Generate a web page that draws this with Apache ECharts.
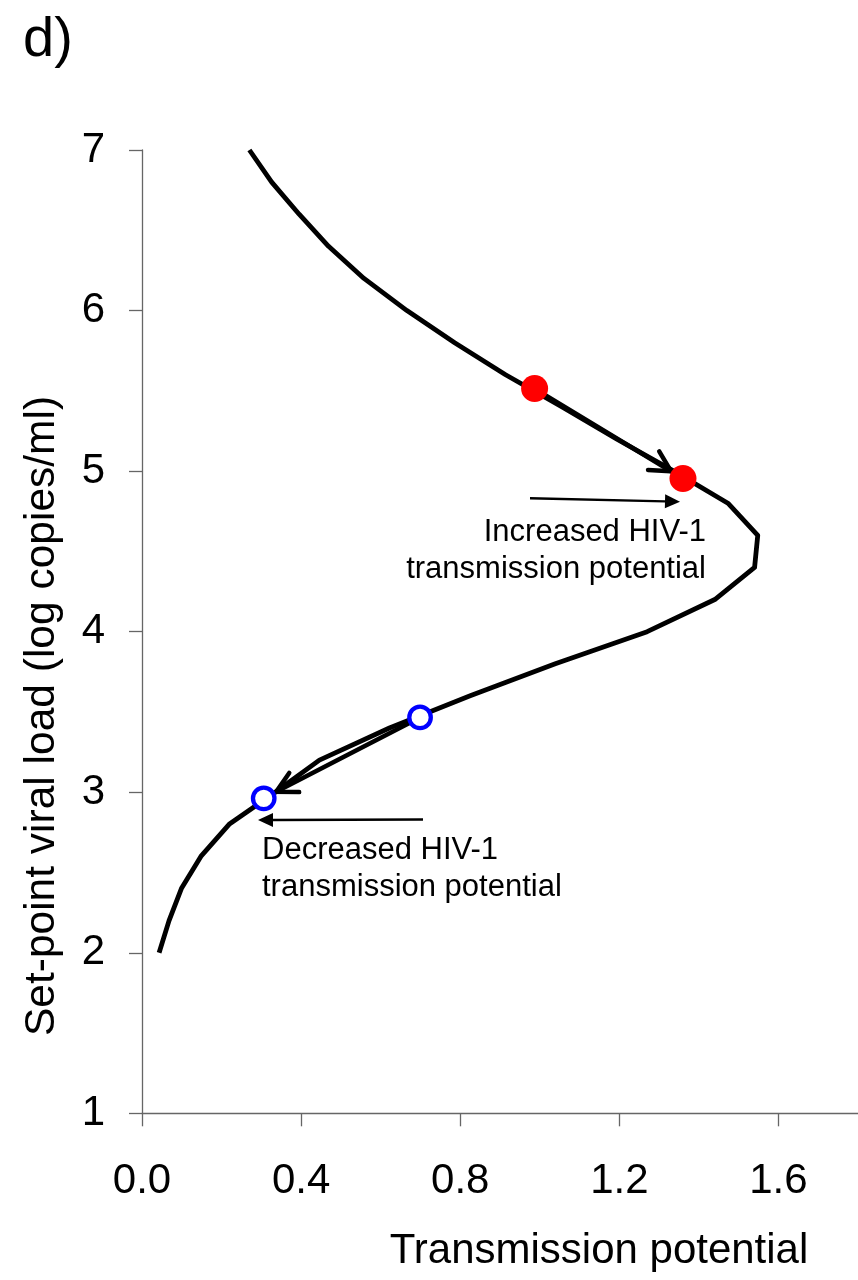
<!DOCTYPE html>
<html>
<head>
<meta charset="utf-8">
<script src="https://cdn.jsdelivr.net/npm/echarts@6/dist/echarts.min.js"></script>
<style>
  html, body { margin: 0; padding: 0; background: #fff; }
  #chart { width: 858px; height: 1280px; }
</style>
</head>
<body>
<div id="chart"></div>
<script>
// Set-point viral load (log copies/ml) sampled along the curve
const viralLoad = [7.0, 6.8, 6.6, 6.4, 6.2, 6.0, 5.8, 5.6, 5.4, 5.2, 5.0, 4.8, 4.6,
                   4.4, 4.2, 4.0, 3.8, 3.6, 3.4, 3.2, 3.0, 2.8, 2.6, 2.4, 2.2, 2.0];
// Transmission potential at each viral load
const transmission = [0.270, 0.326, 0.395, 0.469, 0.558, 0.666, 0.786, 0.914, 1.056, 1.193,
                      1.337, 1.473, 1.548, 1.540, 1.440, 1.270, 1.039, 0.825, 0.622, 0.446,
                      0.335, 0.219, 0.148, 0.099, 0.068, 0.043];
// Shift that raises transmission potential: [potential, viral load] before and after
const increasedShift = [[0.987, 5.514], [1.360, 4.954]];
// Shift that lowers transmission potential
const decreasedShift = [[0.699, 3.466], [0.306, 2.962]];

const xTickValues = [0.0, 0.4, 0.8, 1.2, 1.6];
const yTickValues = [1, 2, 3, 4, 5, 6, 7];

const FONT = '"Liberation Sans", Arial, Helvetica, sans-serif';

const curve = viralLoad.map((v, i) => [transmission[i], v]);

const chart = echarts.init(document.getElementById('chart'), null, { renderer: 'canvas' });

// Arrow with an open chevron head, stopping short of the target marker
function shiftArrow(params, api) {
  const p1 = api.coord([api.value(0), api.value(1)]);
  const p2 = api.coord([api.value(2), api.value(3)]);
  const dx = p2[0] - p1[0], dy = p2[1] - p1[1];
  const len = Math.hypot(dx, dy);
  const ux = dx / len, uy = dy / len;
  const gap = 14;
  const tip = [p2[0] - ux * gap, p2[1] - uy * gap];
  const arm = 23, ang = 28 * Math.PI / 180;
  const back = Math.atan2(-uy, -ux);
  const a1 = [tip[0] + arm * Math.cos(back + ang), tip[1] + arm * Math.sin(back + ang)];
  const a2 = [tip[0] + arm * Math.cos(back - ang), tip[1] + arm * Math.sin(back - ang)];
  return {
    type: 'group',
    children: [
      { type: 'line', shape: { x1: p1[0], y1: p1[1], x2: tip[0], y2: tip[1] },
        style: { stroke: '#000', lineWidth: 4.5, lineCap: 'round' } },
      { type: 'polyline', shape: { points: [a1, tip, a2] },
        style: { stroke: '#000', lineWidth: 4.5, fill: null, lineCap: 'round', lineJoin: 'miter' } }
    ]
  };
}

// Thin pointer with a filled triangular head (pixel layout)
function pointer(x1, y1, x2, y2) {
  const dx = x2 - x1, dy = y2 - y1;
  const len = Math.hypot(dx, dy);
  const ux = dx / len, uy = dy / len;
  const head = 15, half = 7;
  const bx = x2 - ux * head, by = y2 - uy * head;
  return [
    { type: 'line', shape: { x1: x1, y1: y1, x2: bx, y2: by },
      style: { stroke: '#000', lineWidth: 2.4 } },
    { type: 'polygon',
      shape: { points: [[x2, y2], [bx - uy * half, by + ux * half], [bx + uy * half, by - ux * half]] },
      style: { fill: '#000' } }
  ];
}

function label(text, x, y, size, align, rotation) {
  return {
    type: 'text', x: x, y: y, rotation: rotation || 0,
    style: { text: text, font: size + 'px ' + FONT, fill: '#000',
             align: align, verticalAlign: 'middle' }
  };
}

const option = {
  animation: false,
  backgroundColor: '#fff',
  grid: { left: 142, top: 150, width: 724.5, height: 963.3, containLabel: false },
  xAxis: {
    type: 'value', min: 0, max: 1.8, interval: 0.4,
    axisLine: { show: true, lineStyle: { color: '#666', width: 1.3 } },
    axisTick: { show: true, length: 13, lineStyle: { color: '#666', width: 1.3 } },
    splitLine: { show: false },
    axisLabel: {
      show: true, margin: 47, fontSize: 42, fontFamily: FONT, color: '#000',
      showMaxLabel: false,
      formatter: v => xTickValues.some(t => Math.abs(t - v) < 1e-9) ? v.toFixed(1) : ''
    }
  },
  yAxis: {
    type: 'value', min: 1, max: 7, interval: 1,
    axisLine: { show: true, lineStyle: { color: '#666', width: 1.3 } },
    axisTick: { show: true, length: 13, lineStyle: { color: '#666', width: 1.3 } },
    splitLine: { show: false },
    axisLabel: {
      show: true, margin: 37, fontSize: 42, fontFamily: FONT, color: '#000',
      formatter: v => yTickValues.includes(v) ? String(v) : ''
    }
  },
  series: [
    {
      type: 'line', data: curve, showSymbol: false, symbol: 'none', z: 2,
      lineStyle: { color: '#000', width: 4.8, join: 'round' }
    },
    {
      type: 'custom', z: 3, renderItem: shiftArrow,
      data: [
        [increasedShift[0][0], increasedShift[0][1], increasedShift[1][0], increasedShift[1][1]],
        [decreasedShift[0][0], decreasedShift[0][1], decreasedShift[1][0], decreasedShift[1][1]]
      ]
    },
    {
      type: 'scatter', z: 4, data: increasedShift, symbol: 'circle', symbolSize: 27,
      itemStyle: { color: '#ff0000', opacity: 1 }
    },
    {
      type: 'scatter', z: 4, data: decreasedShift, symbol: 'circle', symbolSize: 21.5,
      itemStyle: { color: '#fff', borderColor: '#0000ff', borderWidth: 4.3, opacity: 1 }
    }
  ],
  graphic: [
    label('d)', 23, 41, 56, 'left'),
    label('Set-point viral load (log copies/ml)', 42.5, 716, 42.5, 'center', Math.PI / 2),
    label('Transmission potential', 599, 1251, 42, 'center'),
    label('Increased HIV-1', 706, 532, 31, 'right'),
    label('transmission potential', 706, 569, 31, 'right'),
    label('Decreased HIV-1', 262, 850, 31, 'left'),
    label('transmission potential', 262, 887, 31, 'left'),
    ...pointer(530, 498.3, 680, 501.7),
    ...pointer(423, 819.5, 258, 820)
  ]
};

chart.setOption(option);
</script>
</body>
</html>
